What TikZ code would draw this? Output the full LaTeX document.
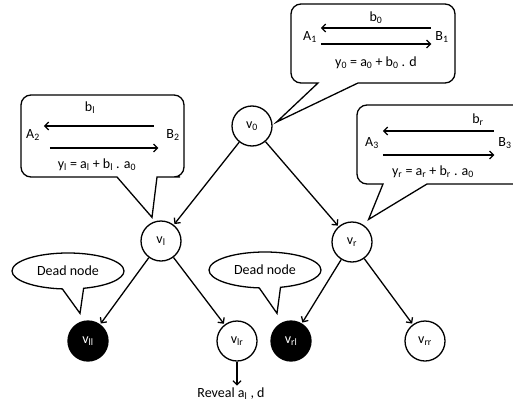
\documentclass[tikz,border=0pt]{standalone}
\usepackage{fontspec}
\setmainfont{Carlito}
\usetikzlibrary{shapes,shapes.callouts,positioning,calc,arrows.meta}
\newcommand{\idx}[1]{\textsubscript{#1}}

\begin{document}
\begin{tikzpicture}
            [
            x=1pt, y=-1pt, line width=1.3pt,
            >={Straight Barb[length=4pt,width=8pt]},
            every node/.append style={font=\fontsize{14}{16}\selectfont},
            tree node/.style={circle, draw, minimum size=40pt, inner sep=0pt},
            dead/.style={tree node, fill=black, text=white},
            bubble/.style={draw, fill=white, line join=miter},
            dead bubble/.style={ellipse callout, draw, fill=white,
                minimum width=112pt, minimum height=36pt,
                callout pointer arc=22},
            flow/.style={->, shorten >=1pt}
            ]
            \useasboundingbox (0,0) rectangle (513,404);
            \clip (0,0) rectangle (513,404);

            % the tree
            \node (v0) [tree node] at (252,126) {v\idx{0}};
            \node (vl) [tree node, on grid, below left=115pt and 91pt of v0] {v\idx{l}};
            \node (vr) [tree node, on grid, below right=116pt and 100pt of v0] {v\idx{r}};
            \node (vll) [dead, on grid, below left=100pt and 73pt of vl] {v\idx{ll}};
            \node (vlr) [tree node, on grid, below right=100pt and 76pt of vl] {v\idx{lr}};
            \node (vrl) [dead, on grid, below left=99pt and 61pt of vr] {v\idx{rl}};
            \node (vrr) [tree node, on grid, below right=99pt and 73pt of vr] {v\idx{rr}};

            \draw [flow] (v0) -- (vl);
            \draw [flow] (v0) -- (vr);
            \draw [flow] (vl) -- (vll);
            \draw [flow] (vl) -- (vlr);
            \draw [flow] (vr) -- (vrl);
            \draw [flow] (vr) -- (vrr);

            \node (reveal) [below=24pt of vlr, xshift=-6pt, inner sep=1pt] {Reveal a\idx{l} , d};
            \draw [->] (vlr) -- (vlr.south |- reveal.north);

            % pointer tips
            \coordinate (t0) at ([shift={(4pt,4pt)}]v0.east);
            \coordinate (tl) at ([shift={(-9pt,3pt)}]vl.north);
            \coordinate (tr) at ([shift={(2pt,8pt)}]vr.north east);
            \coordinate (tll) at ([shift={(-8pt,7pt)}]vll.north);
            \coordinate (trl) at ([shift={(-14pt,7pt)}]vrl.north);

            % dead node bubbles
            \node (d1) [dead bubble, callout absolute pointer=(tll)] at (68,271) {Dead node};
            \node (d2) [dead bubble, callout absolute pointer=(trl)] at (265,270) {Dead node};

            % boxes
            \draw [bubble] (t0) -- (318,83) -- (305,83) [rounded corners=10pt] -- (291,83)
                -- (291,4) -- (455,4) -- (455,83) -- (420,83) [sharp corners] -- (358,83) -- cycle;
            \draw [bubble] (tl) -- (117,177) -- (60,177) [rounded corners=10pt] -- (21,177)
                -- (21,95) -- (184,95) -- (184,177) -- (170,177) [sharp corners] -- (157,177) -- cycle;
            \draw [bubble] (tr) -- (383,184) -- (370,184) [rounded corners=10pt] -- (357,184)
                -- (357,105) -- (525,105) -- (525,184) -- (470,184) [sharp corners] -- (427,184) -- cycle;

            % top box
            \node (A1) at (310,37) {A\idx{1}};
            \node (B1) at (442,37) {B\idx{1}};
            \node (b0) at (376,18) {b\idx{0}};
            \node (y0) at (376,63) {y\idx{0} = a\idx{0} + b\idx{0} . d};
            \draw [<-] ([yshift=9pt]A1.east) -- ([yshift=9pt]B1.west);
            \draw [->] ([yshift=-7pt]A1.east) -- ([yshift=-7pt]B1.west);

            % left box
            \node (A2) at (33,135) {A\idx{2}};
            \node (B2) at (173,135) {B\idx{2}};
            \node (bl) at (90,108) {b\idx{l}};
            \node (yl) at (97,165) {y\idx{l} = a\idx{l} + b\idx{l} . a\idx{0}};
            \draw [<-, shorten >=8pt] ([yshift=9pt]A2.east) -- ([yshift=9pt]B2.west);
            \draw [->, shorten <=6pt, shorten >=4pt] ([yshift=-13pt]A2.east) -- ([yshift=-13pt]B2.west);

            % right box
            \node (A3) at (372,143) {A\idx{3}};
            \node (B3) at (505,143) {B\idx{3}};
            \node (br) at (478,120) {b\idx{r}};
            \node (yr) at (433,172) {y\idx{r} = a\idx{r} + b\idx{r} . a\idx{0}};
            \draw [<-] ([yshift=12pt]A3.east) -- ([yshift=12pt]B3.west);
            \draw [->] ([yshift=-12pt]A3.east) -- ([yshift=-12pt]B3.west);

        \end{tikzpicture}
\end{document}
